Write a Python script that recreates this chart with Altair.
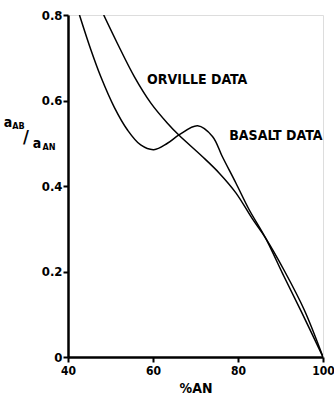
import altair as alt
import pandas as pd

basalt_x = [42.7, 45.4, 47.7, 50.9, 54.0, 57.1, 60.2, 63.4, 66.2, 70.5, 74.0, 76.3, 79.5, 82.6, 86.5, 90.5, 94.9, 100.0]
basalt_y = [0.80, 0.718, 0.656, 0.584, 0.531, 0.496, 0.485, 0.500, 0.520, 0.541, 0.516, 0.469, 0.407, 0.345, 0.278, 0.195, 0.106, 0.0]

orville_x = [48.4, 51.6, 55.6, 59.5, 63.4, 66.2, 71.6, 75.6, 79.5, 83.4, 86.5, 91.0, 95.6, 100.0]
orville_y = [0.80, 0.734, 0.656, 0.594, 0.547, 0.518, 0.469, 0.430, 0.384, 0.323, 0.278, 0.200, 0.110, 0.0]

labels = ["ORVILLE DATA", "BASALT DATA"]
label_x = [70.4, 88.9]
label_y = [0.648, 0.517]

x_ticks = [40, 60, 80, 100]
y_ticks = [0, 0.2, 0.4, 0.6, 0.8]

FONT = "DejaVu Sans Condensed"

df = pd.concat([
    pd.DataFrame({"x": basalt_x, "y": basalt_y, "s": "basalt"}),
    pd.DataFrame({"x": orville_x, "y": orville_y, "s": "orville"}),
])
lab = pd.DataFrame({"t": labels, "x": label_x, "y": label_y})

xs = alt.Scale(domain=[40, 100], nice=False, zero=False)
ys = alt.Scale(domain=[0, 0.8], nice=False)

lines = alt.Chart(df).mark_line(color="black", strokeWidth=1.5, interpolate="catmull-rom", clip=True).encode(
    x=alt.X("x:Q", scale=xs, axis=alt.Axis(
        values=x_ticks, title="%AN", grid=False, domainWidth=2.5, domainColor="black",
        tickColor="black", tickWidth=2, tickSize=5, labelFont=FONT, labelFontSize=12,
        labelFontWeight="bold", labelColor="black", labelPadding=3, labelFlush=False,
        titleFont=FONT, titleFontSize=14, titleFontWeight="bold", titleColor="black",
        titlePadding=5)),
    y=alt.Y("y:Q", scale=ys, axis=alt.Axis(
        values=y_ticks, title=None, grid=False, domainWidth=2.5, domainColor="black",
        tickColor="black", tickWidth=2, tickSize=5, labelFont=FONT, labelFontSize=13,
        labelFontWeight="bold", labelColor="black", labelPadding=1, labelFlush=False,
        labelExpr="datum.value == 0 ? '0' : format(datum.value, '.1f')")),
    detail="s:N",
)

texts = alt.Chart(lab).mark_text(font=FONT, fontSize=14, fontWeight="bold", color="black").encode(
    x=alt.X("x:Q", scale=xs), y=alt.Y("y:Q", scale=ys), text="t:N"
)

# y-axis label a_AB / a_AN built from pieces
ylab_parts = pd.DataFrame({
    "t": ["a", "AB", "/", "a", "AN"],
    "px": [-60, -49.5, -42, -31, -19],
    "py": [108, 111, 123, 129, 132],
    "fs": [14, 9, 18, 14, 9],
})
ylab = alt.Chart(ylab_parts).mark_text(font=FONT, fontWeight="bold", color="black", align="center", baseline="middle").encode(
    x=alt.X("px:Q", scale=None), y=alt.Y("py:Q", scale=None), text="t:N",
    size=alt.Size("fs:Q", scale=None, legend=None),
)

chart = alt.layer(lines, texts, ylab).properties(
    width=255, height=342,
    autosize=alt.AutoSizeParams(type="none"),
    padding={"left": 68, "top": 15, "right": 11, "bottom": 43},
).configure_view(stroke=None).configure(background="white")

chart.save("out.html", embed_options={"renderer": "svg", "actions": False})
